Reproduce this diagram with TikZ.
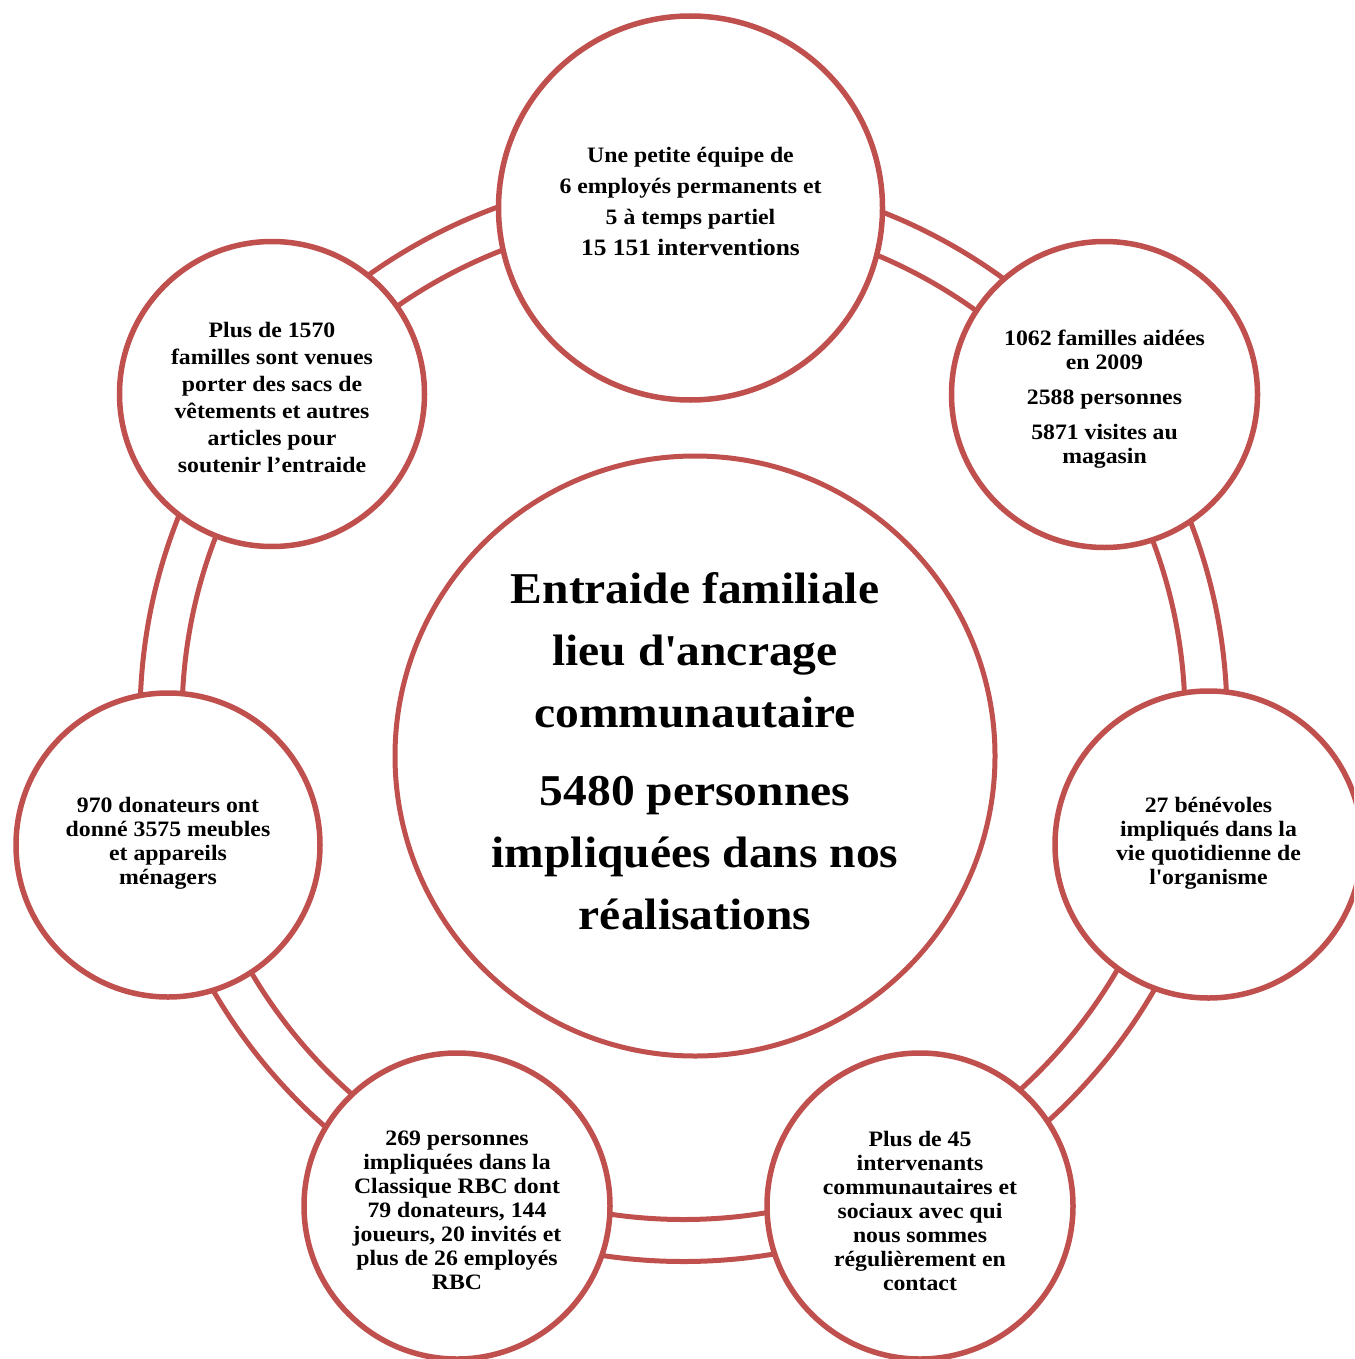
\documentclass[tikz,border=0pt]{standalone}
\usepackage{fontspec}
\setmainfont{Liberation Serif}[FakeStretch=1.08]
\definecolor{accred}{HTML}{C0504D}
\begin{document}
\begin{tikzpicture}[x=1pt,y=-1pt,
  bubble/.style={circle, draw=accred, line width=5.5pt, fill=white, inner sep=0pt},
  ringline/.style={draw=accred, line width=5pt},
  smalltxt/.style={align=center, font=\bfseries\fontsize{22}{24}\selectfont, inner sep=0pt},
  bigtxt/.style={align=center, font=\bfseries\fontsize{44}{62}\selectfont, inner sep=0pt}]
\useasboundingbox (0,0) rectangle (1354,1359);
\clip (0,0) rectangle (1354,1359);
\coordinate (ring) at (683.5,718);
\draw[ringline] (ring) circle[radius=543.5];
\draw[ringline] (ring) circle[radius=501.5];

\node[bubble, minimum size=384pt] (top) at (690.5,208) {};
\node[bubble, minimum size=306pt] (rtop) at (1104.5,394.5) {};
\node[bubble, minimum size=307pt] (right) at (1208.5,844.5) {};
\node[bubble, minimum size=306pt] (brt) at (920,1206) {};
\node[bubble, minimum size=306pt] (blt) at (457,1206) {};
\node[bubble, minimum size=304pt] (left) at (168,845) {};
\node[bubble, minimum size=305pt] (tleft) at (272,394) {};
\node[bubble, minimum size=600pt, line width=5pt] (hub) at (695,756) {};

\node[smalltxt, font=\bfseries\fontsize{22}{31}\selectfont] (ttop) at (690.5,201)
  {Une petite équipe de\\6 employés permanents et\\5 à temps partiel\\{\fontsize{23.5}{31}\selectfont 15 151 interventions}};
\node[smalltxt] (trtop) at (1104.5,399)
  {1062 familles aidées\\en 2009\\[11pt]2588 personnes\\[11pt]5871 visites au\\magasin};
\node[smalltxt] (tright) at (1208.5,843)
  {27 bénévoles\\impliqués dans la\\vie quotidienne de\\l\textquotesingle organisme};
\node[smalltxt] (tbrt) at (920,1210.5)
  {Plus de 45\\intervenants\\communautaires et\\sociaux avec qui\\nous sommes\\régulièrement en\\contact};
\node[smalltxt] (tblt) at (457,1210.5)
  {269 personnes\\impliquées dans la\\Classique RBC dont\\79 donateurs, 144\\joueurs, 20 invités et\\plus de 26 employés\\RBC};
\node[smalltxt] (tleftt) at (168,843)
  {970 donateurs ont\\donné 3575 meubles\\et appareils\\ménagers};
\node[smalltxt, font=\bfseries\fontsize{22}{27}\selectfont] (ttleft) at (272,397.5)
  {Plus de 1570\\familles sont venues\\porter des sacs de\\vêtements et autres\\articles pour\\soutenir l’entraide};
\node[bigtxt] (thub) at (695,751)
  {Entraide familiale\\lieu d\textquotesingle ancrage\\communautaire\\[16pt]5480 personnes\\impliquées dans nos\\réalisations};
\end{tikzpicture}
\end{document}
